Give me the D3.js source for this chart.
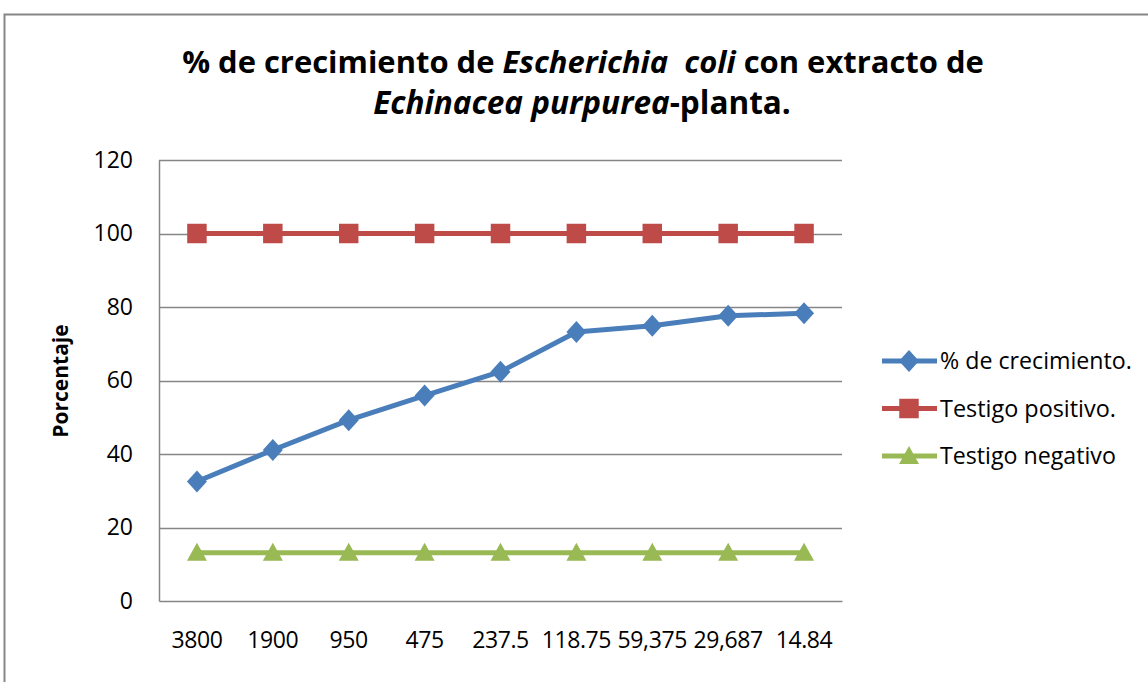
<!DOCTYPE html>
<html>
<head>
<meta charset="utf-8">
<script src="https://cdn.jsdelivr.net/npm/d3@7"></script>
<style>
  body { margin: 0; background: #fff; }
  text { font-family: "Open Sans", "Liberation Sans", sans-serif; fill: #000; }
</style>
</head>
<body>
<div id="chart"></div>
<script>
var categories = ['3800', '1900', '950', '475', '237.5', '118.75', '59,375', '29,687', '14.84'];
var crecimiento = [32.5, 41.1, 49.2, 55.9, 62.4, 73.2, 74.9, 77.6, 78.3];
var positivo = [100, 100, 100, 100, 100, 100, 100, 100, 100];
var negativo = [13.1, 13.1, 13.1, 13.1, 13.1, 13.1, 13.1, 13.1, 13.1];
var yTicks = [0, 20, 40, 60, 80, 100, 120];

var series = [
    {name: '% de crecimiento.', values: crecimiento, color: '#4A7EBB', marker: 'diamond'},
    {name: 'Testigo positivo.', values: positivo, color: '#BE4B48', marker: 'square'},
    {name: 'Testigo negativo', values: negativo, color: '#98B954', marker: 'triangle'}
];

var width = 1148, height = 682;
var plot = {left: 159, right: 842, top: 160, bottom: 601};

var svg = d3.select('#chart').append('svg')
    .attr('width', width)
    .attr('height', height);

// chart frame
svg.append('rect')
    .attr('x', 4.5).attr('y', 14.5)
    .attr('width', 1160).attr('height', 700)
    .attr('fill', '#fff')
    .attr('stroke', '#868686')
    .attr('stroke-width', 2);

var x = d3.scaleBand()
    .domain(categories)
    .range([plot.left, plot.right]);

var y = d3.scaleLinear()
    .domain([0, 120])
    .range([plot.bottom, plot.top]);

function fitText(sel, target) {
    var size = +sel.attr('font-size');
    var w = sel.node().getComputedTextLength();
    sel.attr('font-size', size * target / w);
}

// title
var t1 = svg.append('text')
    .attr('x', 583).attr('y', 73)
    .attr('text-anchor', 'middle')
    .attr('font-size', 28)
    .attr('font-weight', 'bold');
t1.append('tspan').text('% de crecimiento de ');
t1.append('tspan').attr('font-style', 'italic').text('Escherichia\u00a0 coli');
t1.append('tspan').text(' con extracto de');
fitText(t1, 802);

var t2 = svg.append('text')
    .attr('x', 582).attr('y', 114)
    .attr('text-anchor', 'middle')
    .attr('font-size', 28)
    .attr('font-weight', 'bold');
t2.append('tspan').attr('font-style', 'italic').text('Echinacea purpurea');
t2.append('tspan').text('-planta.');
fitText(t2, 418);

// gridlines
svg.append('g')
    .selectAll('line')
    .data(yTicks.filter(function(d) { return d > 0; }))
    .enter().append('line')
    .attr('x1', plot.left).attr('x2', plot.right)
    .attr('y1', function(d) { return Math.round(y(d)) + 0.5; })
    .attr('y2', function(d) { return Math.round(y(d)) + 0.5; })
    .attr('stroke', '#868686')
    .attr('stroke-width', 1.3);

// y axis
var yAxis = svg.append('g')
    .attr('transform', 'translate(' + plot.left + ',0)')
    .call(d3.axisLeft(y).tickValues(yTicks).tickSize(0).tickPadding(26));
yAxis.select('.domain').attr('stroke', '#868686').attr('stroke-width', 1.5);
yAxis.selectAll('text')
    .attr('font-size', 23)
    .attr('font-family', '"Open Sans", sans-serif')
    .attr('fill', '#111');

// x axis
var xAxis = svg.append('g')
    .attr('transform', 'translate(0,' + plot.bottom + ')')
    .call(d3.axisBottom(x).tickSize(0).tickPadding(31));
xAxis.select('.domain').attr('stroke', '#868686').attr('stroke-width', 1.5);
xAxis.selectAll('text')
    .attr('font-size', 23)
    .attr('font-family', '"Open Sans", sans-serif')
    .attr('fill', '#111')
    .attr('letter-spacing', -0.4);

// y axis title
svg.append('text')
    .attr('transform', 'translate(68,381) rotate(-90)')
    .attr('text-anchor', 'middle')
    .attr('font-size', 21)
    .attr('font-weight', 'bold')
    .text('Porcentaje');

var line = d3.line()
    .x(function(d, i) { return x(categories[i]) + x.bandwidth() / 2; })
    .y(function(d) { return y(d); });

var symbols = {
    diamond: function() { return 'M0,-11L10,0L0,11L-10,0Z'; },
    square: d3.symbol().type(d3.symbolSquare).size(380),
    triangle: function() { return 'M0,-10L10,8L-10,8Z'; }
};

var order = [series[1], series[2], series[0]];
order.forEach(function(s) {
    var g = svg.append('g');
    g.append('path')
        .datum(s.values)
        .attr('d', line)
        .attr('fill', 'none')
        .attr('stroke', s.color)
        .attr('stroke-width', 5)
        .attr('stroke-linejoin', 'round');
    g.selectAll('.pt')
        .data(s.values)
        .enter().append('path')
        .attr('class', 'pt')
        .attr('transform', function(d, i) {
            return 'translate(' + (x(categories[i]) + x.bandwidth() / 2) + ',' + y(d) + ')';
        })
        .attr('d', symbols[s.marker])
        .attr('fill', s.color);
});

// legend
var legend = svg.append('g')
    .selectAll('g')
    .data(series)
    .enter().append('g')
    .attr('transform', function(d, i) { return 'translate(882,' + (361 + i * 47.5) + ')'; });

legend.append('line')
    .attr('x1', 0).attr('x2', 55)
    .attr('stroke', function(d) { return d.color; })
    .attr('stroke-width', 5);

legend.append('path')
    .attr('transform', 'translate(27,0)')
    .attr('d', function(d) { return symbols[d.marker](); })
    .attr('fill', function(d) { return d.color; });

legend.append('text')
    .attr('x', 58)
    .attr('y', 8)
    .attr('font-size', 22)
    .attr('fill', '#111')
    .text(function(d) { return d.name; })
    .each(function(d, i) {
        fitText(d3.select(this), [192, 176, 176][i]);
    });
</script>
</body>
</html>
